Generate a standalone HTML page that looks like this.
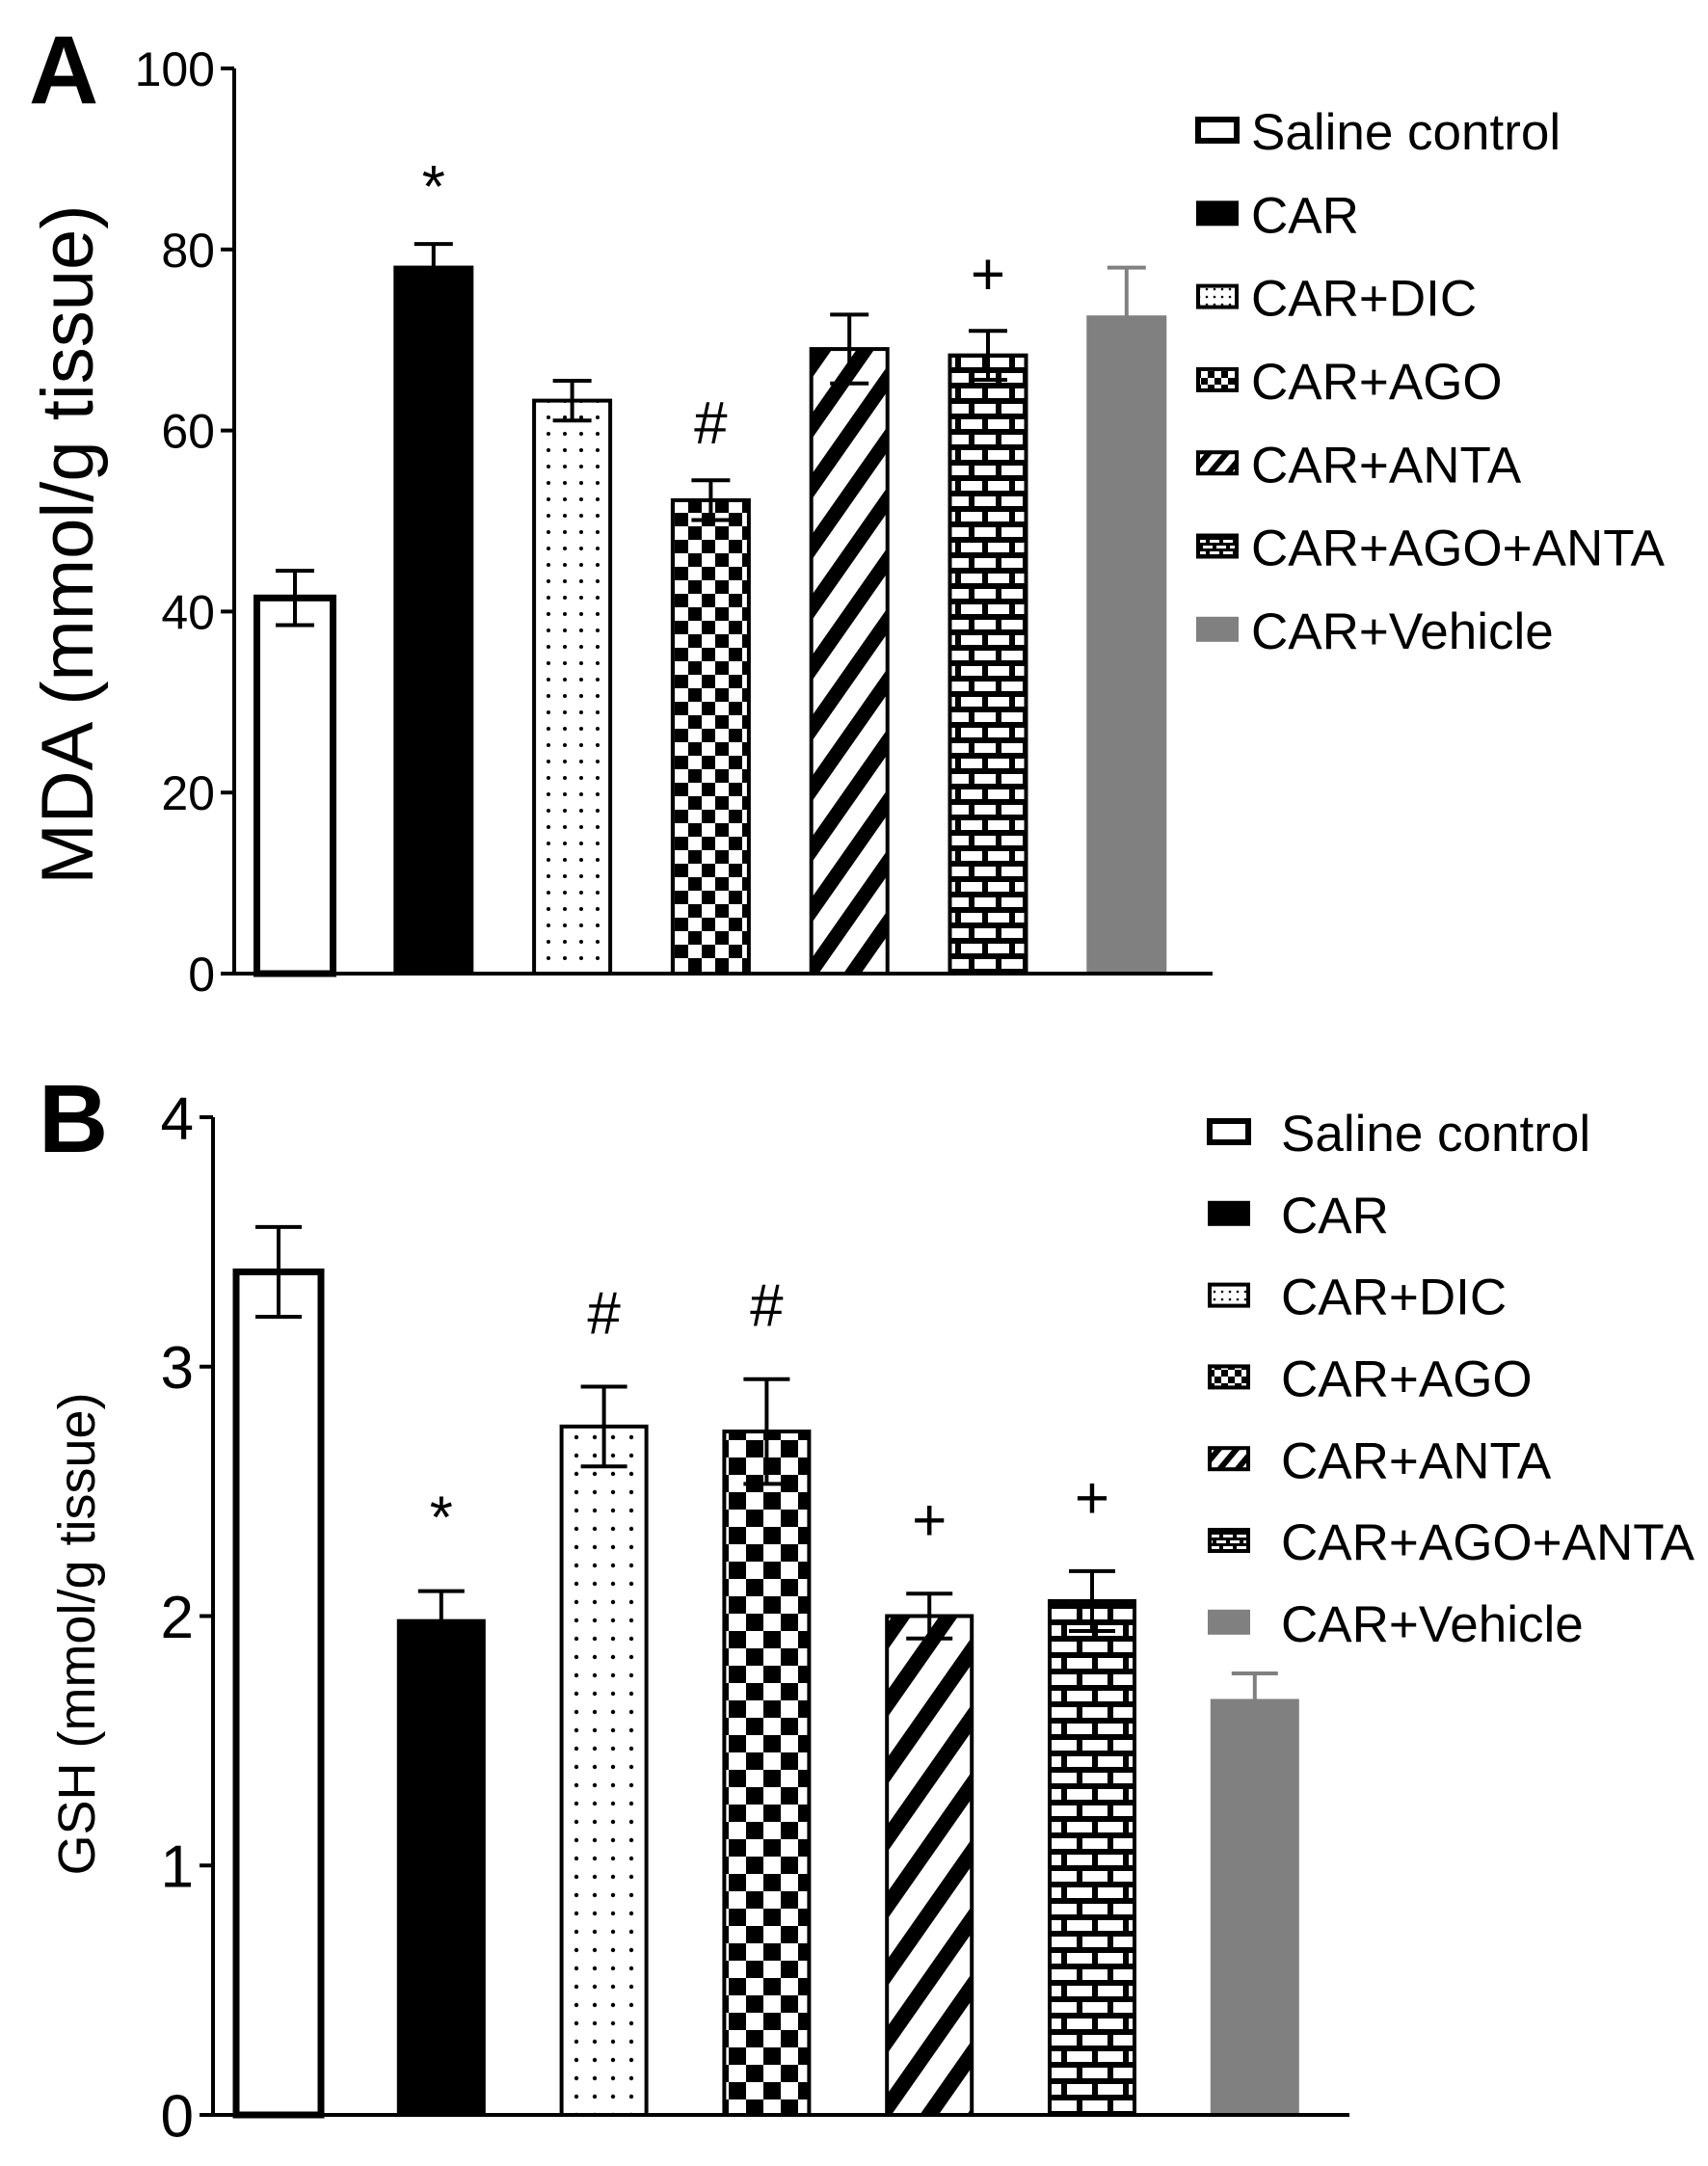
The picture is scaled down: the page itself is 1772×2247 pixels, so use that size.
<!DOCTYPE html>
<html><head><meta charset="utf-8">
<style>
html,body{margin:0;padding:0;background:#fff;}
svg{display:block;font-family:"Liberation Sans",Arial,sans-serif;}
</style></head>
<body>
<svg id="chart" width="1772" height="2247" viewBox="0 0 1772 2247" xmlns="http://www.w3.org/2000/svg">
<defs>
  <pattern id="dotsA" patternUnits="userSpaceOnUse" width="17" height="17"><rect width="17" height="17" fill="#fff"/><circle cx="8" cy="8" r="2" fill="#000"/></pattern>
  <pattern id="checkA" patternUnits="userSpaceOnUse" width="28" height="28"><rect width="28" height="28" fill="#fff"/><rect width="14" height="14" fill="#000"/><rect x="14" y="14" width="14" height="14" fill="#000"/></pattern>
  <pattern id="stripeA" patternUnits="userSpaceOnUse" width="36" height="36" patternTransform="rotate(35)"><rect width="36" height="36" fill="#fff"/><rect width="15" height="36" fill="#000"/></pattern>
  <pattern id="brickA" patternUnits="userSpaceOnUse" width="28" height="32"><rect width="28" height="32" fill="#000"/><rect x="3" y="3" width="22" height="10" fill="#fff"/><rect x="-11" y="19" width="22" height="10" fill="#fff"/><rect x="17" y="19" width="22" height="10" fill="#fff"/></pattern>
  <pattern id="dotsB" patternUnits="userSpaceOnUse" width="19" height="19"><rect width="19" height="19" fill="#fff"/><circle cx="9" cy="9" r="2.2" fill="#000"/></pattern>
  <pattern id="checkB" patternUnits="userSpaceOnUse" width="36" height="36"><rect width="36" height="36" fill="#fff"/><rect width="18" height="18" fill="#000"/><rect x="18" y="18" width="18" height="18" fill="#000"/></pattern>
  <pattern id="stripeB" patternUnits="userSpaceOnUse" width="40" height="40" patternTransform="rotate(35)"><rect width="40" height="40" fill="#fff"/><rect width="16" height="40" fill="#000"/></pattern>
  <pattern id="brickB" patternUnits="userSpaceOnUse" width="32" height="34"><rect width="32" height="34" fill="#000"/><rect x="3" y="3" width="26" height="11" fill="#fff"/><rect x="-13" y="20" width="26" height="11" fill="#fff"/><rect x="19" y="20" width="26" height="11" fill="#fff"/></pattern>
  <pattern id="leg-dots" patternUnits="userSpaceOnUse" width="8" height="8"><rect width="8" height="8" fill="#fff"/><circle cx="4" cy="4" r="1.3" fill="#000"/></pattern>
  <pattern id="leg-check" patternUnits="userSpaceOnUse" width="14" height="14"><rect width="14" height="14" fill="#fff"/><rect width="7" height="7" fill="#000"/><rect x="7" y="7" width="7" height="7" fill="#000"/></pattern>
  <pattern id="leg-stripe" patternUnits="userSpaceOnUse" width="14" height="14" patternTransform="rotate(40)"><rect width="14" height="14" fill="#fff"/><rect width="6" height="14" fill="#000"/></pattern>
  <pattern id="leg-brick" patternUnits="userSpaceOnUse" width="14" height="12"><rect width="14" height="12" fill="#000"/><rect x="2" y="2" width="10" height="3" fill="#fff"/><rect x="-5" y="8" width="10" height="3" fill="#fff"/><rect x="9" y="8" width="10" height="3" fill="#fff"/></pattern>
</defs>
</svg>
<script>
const groups = ["Saline control","CAR","CAR+DIC","CAR+AGO","CAR+ANTA","CAR+AGO+ANTA","CAR+Vehicle"];
const mdaValues = [41.5, 78, 63.3, 52.3, 69, 68.3, 72.5];
const mdaErrors = [3, 2.6, 2.2, 2.2, 3.8, 2.7, 5.5];
const mdaMarks = ["", "*", "", "#", "", "+", ""];
const mdaTicks = [0, 20, 40, 60, 80, 100];
const gshValues = [3.38, 1.98, 2.76, 2.74, 2.0, 2.06, 1.66];
const gshErrors = [0.18, 0.12, 0.16, 0.21, 0.09, 0.12, 0.11];
const gshMarks = ["", "*", "#", "#", "+", "+", ""];
const gshTicks = [0, 1, 2, 3, 4];

const NS = "http://www.w3.org/2000/svg";
const svg = document.getElementById('chart');
function el(tag, attrs, parent){const e=document.createElementNS(NS,tag);for(const k in attrs)e.setAttribute(k,attrs[k]);(parent||svg).appendChild(e);return e;}

function panel(cfg){
  const g = el('g',{});
  
  
  const y = v => cfg.y0 - (v - 0) / (cfg.max) * (cfg.y0 - cfg.yTop);
  const fills = ["#fff","#000","url(#dots"+cfg.k+")","url(#check"+cfg.k+")","url(#stripe"+cfg.k+")","url(#brick"+cfg.k+")","#808080"];
  cfg.values.forEach((v,i)=>{
    const cx = cfg.x0 + cfg.step * i;
    const yt = y(v), ye = y(v + cfg.errors[i]), yl = y(v - cfg.errors[i]);
    const col = i===6 ? "#808080" : "#000";
    const eb1 = el('line',{x1:cx,x2:cx,y1:yl,y2:ye,stroke:col,'stroke-width':4},g);
    
    
    const cap = el('line',{x1:cx-cfg.cap,x2:cx+cfg.cap,y1:ye,y2:ye,stroke:col,'stroke-width':4},g);
    
    
    const r = el('rect',{x:cx-cfg.bw/2,y:yt,width:cfg.bw,height:cfg.y0-yt,fill:fills[i],stroke:i===6?"#808080":"#000",'stroke-width':i===0?7:4},g);
    
    
    if(i!==1 && i!==6){
      const lo = el('line',{x1:cx-cfg.cap,x2:cx+cfg.cap,y1:yl,y2:yl,stroke:"#000",'stroke-width':4},g);
      
      
      el('line',{x1:cx,x2:cx,y1:yt,y2:yl,stroke:"#000",'stroke-width':4},g);
    }
    if(cfg.marks[i]){
      const t = el('text',{x:cx,y:ye-cfg.markGap,'text-anchor':'middle','font-size':cfg.markSize,fill:'#000'},g);
      t.textContent = cfg.marks[i];
      
      
    }
  });
  const ax = el('line',{x1:cfg.ax,x2:cfg.ax,y1:cfg.yTop,y2:cfg.y0+2,stroke:'#000','stroke-width':4},g);
  
  
  const xa = el('line',{x1:cfg.ax-14,x2:cfg.axEnd,y1:cfg.y0,y2:cfg.y0,stroke:'#000','stroke-width':4},g);
  
  
  cfg.ticks.forEach(tv=>{
    el('line',{x1:cfg.ax-14,x2:cfg.ax,y1:y(tv),y2:y(tv),stroke:'#000','stroke-width':4},g);
    const t = el('text',{x:cfg.ax-20,y:y(tv)+cfg.tickSize*0.36,'text-anchor':'end','font-size':cfg.tickSize,fill:'#000'},g);
    t.textContent = tv;
    
    
  });
  const yl = el('text',{x:0,y:0,'text-anchor':'middle','font-size':cfg.labelSize,fill:'#000',transform:`translate(${cfg.labelX},${cfg.labelY}) rotate(-90)`},g);
  yl.textContent = cfg.label;
  
  
  const pl = el('text',{x:cfg.letterX,y:cfg.letterY,'font-size':100,'font-weight':'bold',fill:'#000'},g);
  pl.textContent = cfg.letter;
  
  
  const lfills = ["#fff","#000","url(#leg-dots)","url(#leg-check)","url(#leg-stripe)","url(#leg-brick)","#808080"];
  groups.forEach((name,i)=>{
    const ly = cfg.legY + cfg.legStep*i;
    const lg = el('g',{},g);
    
    
    el('rect',{x:cfg.legX+3,y:ly-12,width:40,height:22,fill:lfills[i],stroke:i===6?'#808080':'#000','stroke-width':i===0?6:4},lg);
    const t = el('text',{x:cfg.legTX,y:ly+cfg.legSize*0.36,'font-size':cfg.legSize,fill:'#000'},lg);
    t.textContent = name;
  });
}

panel({name:'panel-a-mda-chart',k:'A',values:mdaValues,errors:mdaErrors,marks:mdaMarks,ticks:mdaTicks,max:100,
  x0:306,step:143.8,bw:79,cap:20,y0:1010,yTop:71,ax:243,axEnd:1258,tickSize:50,label:'MDA (mmol/g tissue)',labelSize:76,labelX:96,labelY:565,
  letter:'A',letterX:30,letterY:107,legX:1240,legTX:1298,legY:136,legStep:86.3,legSize:53,markSize:62,markGap:38});
panel({name:'panel-b-gsh-chart',k:'B',values:gshValues,errors:gshErrors,marks:gshMarks,ticks:gshTicks,max:4,
  x0:289,step:168.8,bw:88,cap:24,y0:2194,yTop:1159,ax:221,axEnd:1400,tickSize:62,label:'GSH (mmol/g tissue)',labelSize:54,labelX:98,labelY:1695,
  letter:'B',letterX:40,letterY:1195,legX:1252,legTX:1329,legY:1175,legStep:84.8,legSize:53,markSize:62,markGap:55});
</script>
</body></html>
